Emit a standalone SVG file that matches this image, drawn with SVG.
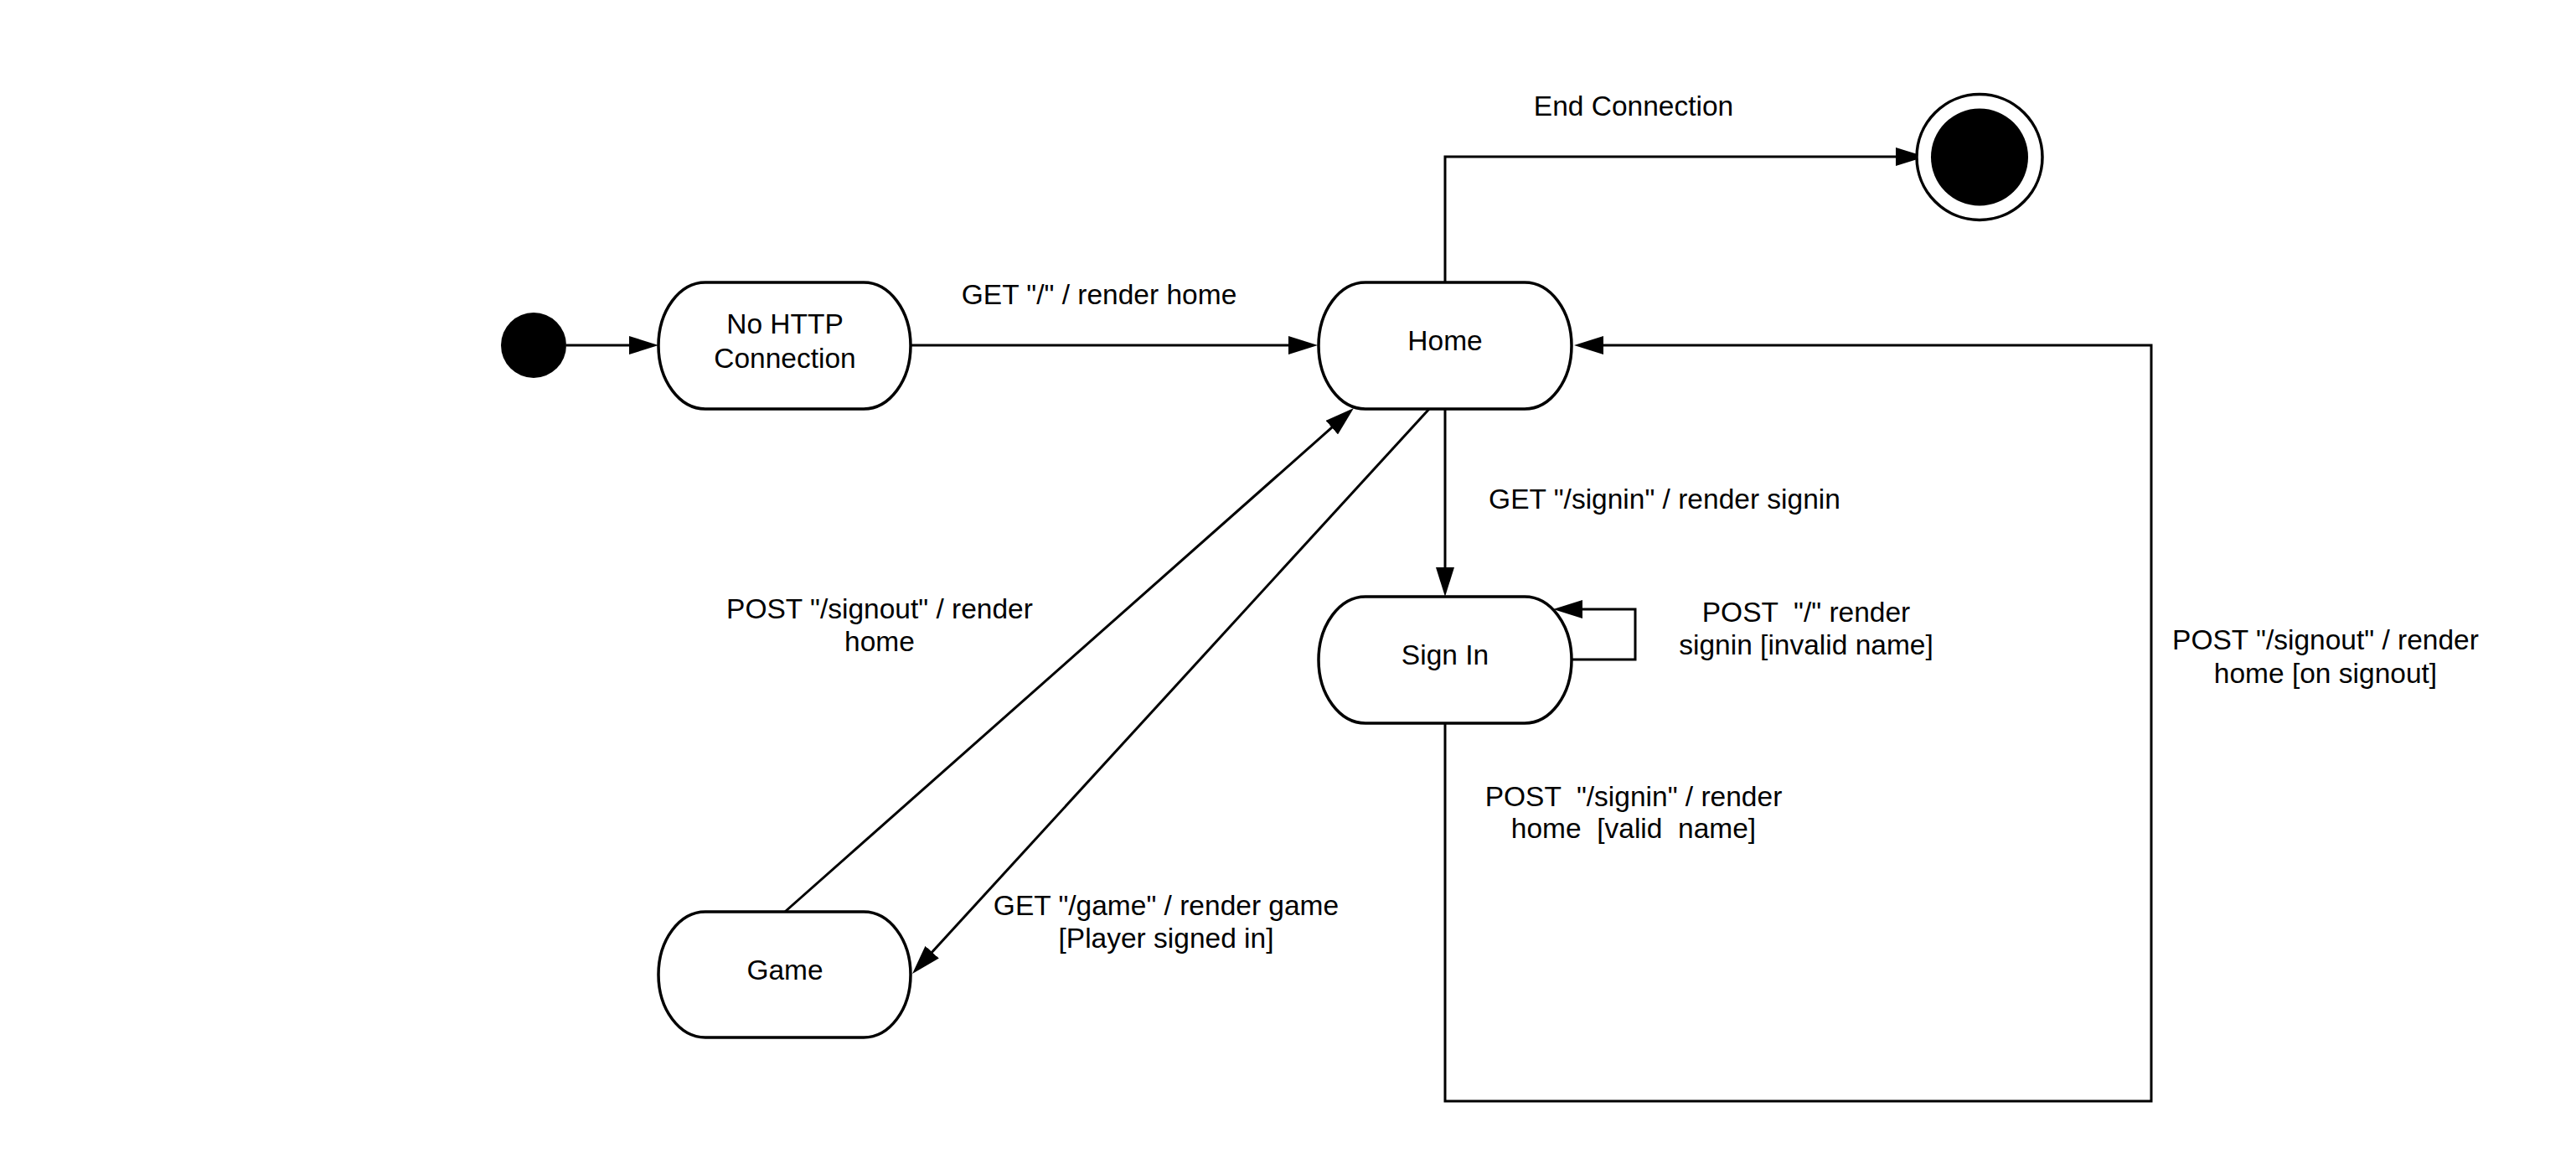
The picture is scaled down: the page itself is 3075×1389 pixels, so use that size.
<svg xmlns="http://www.w3.org/2000/svg" width="3075" height="1389" viewBox="0 0 3075 1389">
<style>
text{font-family:"Liberation Sans",Arial,sans-serif;font-size:33.5px;fill:#000;text-anchor:middle;white-space:pre}
.state{fill:#fff;stroke:#000;stroke-width:3.5}
.conn{fill:none;stroke:#000;stroke-width:3}
</style>
<defs>
<marker id="arrow" viewBox="0 0 35 22" refX="25" refY="11" markerWidth="35" markerHeight="22" markerUnits="userSpaceOnUse" orient="auto">
<path d="M0 0 L35 11 L0 22 Z" fill="#000"/>
</marker>
</defs>
<rect width="3075" height="1389" fill="#fff"/>
<g id="connectors">
<path class="conn" marker-end="url(#arrow)" d="M676 412 H776"/>
<path class="conn" marker-end="url(#arrow)" d="M1087 412 H1563"/>
<path class="conn" marker-end="url(#arrow)" d="M1725 337 V187 H2288"/>
<path class="conn" marker-end="url(#arrow)" d="M1725 488 V702"/>
<path class="conn" marker-end="url(#arrow)" d="M1876 787 H1952 V727 H1864"/>
<path class="conn" marker-end="url(#arrow)" d="M937 1088 L1608.5 493.6"/>
<path class="conn" marker-end="url(#arrow)" d="M1706 488 L1095.8 1154.6"/>
<path class="conn" marker-end="url(#arrow)" d="M1725 863 V1314 H2568 V412 H1889"/>
<text x="1950" y="138">End Connection</text>
<text x="1312" y="363">GET "/" / render home</text>
<text x="1987" y="607">GET "/signin" / render signin</text>
<text x="2156" y="742">POST  "/" render</text>
<text x="2156" y="781">signin [invalid name]</text>
<text x="1050" y="738">POST "/signout" / render</text>
<text x="1050" y="777">home</text>
<text x="1392" y="1092">GET "/game" / render game</text>
<text x="1392" y="1131">[Player signed in]</text>
<text x="1950" y="962">POST  "/signin" / render</text>
<text x="1950" y="1000">home  [valid  name]</text>
<text x="2776" y="775">POST "/signout" / render</text>
<text x="2776" y="815">home [on signout]</text>
</g>
<g id="initial">
<circle cx="637" cy="412" r="39" fill="#000"/>
</g>
<g id="no-http">
<rect class="state" x="786" y="337" width="301" height="151" rx="56" ry="75.5"/>
<text x="937" y="398">No HTTP</text>
<text x="937" y="439">Connection</text>
</g>
<g id="home">
<rect class="state" x="1574" y="337" width="302" height="151" rx="56" ry="75.5"/>
<text x="1725" y="418">Home</text>
</g>
<g id="signin">
<rect class="state" x="1574" y="712" width="302" height="151" rx="56" ry="75.5"/>
<text x="1725" y="793">Sign In</text>
</g>
<g id="game">
<rect class="state" x="786" y="1088" width="301" height="150" rx="56" ry="75"/>
<text x="937" y="1169">Game</text>
</g>
<g id="final">
<circle cx="2363" cy="187.5" r="75" fill="#fff" stroke="#000" stroke-width="3.5"/>
<circle cx="2363" cy="187.5" r="58" fill="#000"/>
</g>
</svg>
